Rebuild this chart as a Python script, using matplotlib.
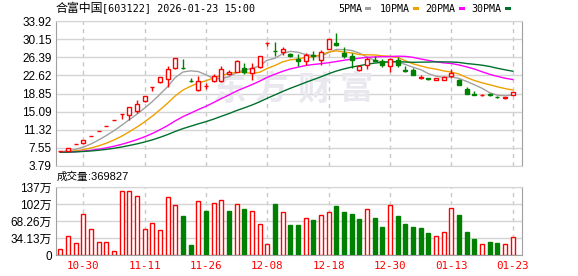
import numpy as np
import pandas as pd
import matplotlib
matplotlib.use("Agg")
import matplotlib.pyplot as plt
from matplotlib.patches import Rectangle

plt.rcParams['font.family'] = ['Liberation Sans', 'Noto Sans CJK SC']

# ---------------- data ----------------
stock_name = "合富中国"
stock_code = "603122"
timestamp = "2026-01-23 15:00"
watermark = "东方财富"

dates = ["10-27", "10-28", "10-29", "10-30", "10-31", "11-03", "11-04", "11-05", "11-06", "11-07",
         "11-10", "11-11", "11-12", "11-13", "11-14", "11-17", "11-18", "11-19", "11-20", "11-26",
         "11-27", "11-28", "12-01", "12-02", "12-03", "12-04", "12-05", "12-08", "12-09", "12-10",
         "12-11", "12-12", "12-15", "12-16", "12-17", "12-18", "12-19", "12-22", "12-23", "12-24",
         "12-25", "12-26", "12-29", "12-30", "12-31", "01-05", "01-06", "01-07", "01-08", "01-09",
         "01-12", "01-13", "01-14", "01-15", "01-16", "01-19", "01-20", "01-21", "01-22", "01-23"]

opens = [6.82, 7.00, 8.29, 8.50, 10.03, 11.03, 12.13, 13.34, 14.67, 14.46,
         15.15, 17.22, 20.12, 21.23, 21.85, 24.13, 24.20, 21.55, 19.64, 20.50,
         21.35, 21.50, 22.95, 23.35, 24.20, 23.10, 24.30, 29.26, 27.72, 27.38,
         27.10, 26.00, 25.65, 26.90, 25.72, 28.07, 29.31, 27.24, 26.69, 23.78,
         24.82, 25.72, 25.65, 24.61, 25.72, 23.78, 23.65, 22.15, 22.00, 21.64,
         21.75, 22.40, 21.60, 19.85, 18.65, 18.45, 18.65, 18.20, 17.85, 18.50]

highs = [6.88, 7.54, 8.29, 9.12, 10.03, 11.03, 12.13, 13.34, 14.67, 15.95,
         17.57, 18.41, 20.12, 22.27, 24.48, 26.20, 26.10, 22.00, 22.40, 21.10,
         22.85, 24.60, 23.75, 25.85, 25.20, 25.20, 26.70, 29.50, 29.66, 28.62,
         27.24, 27.03, 27.24, 27.59, 27.93, 30.14, 31.50, 28.48, 27.24, 24.80,
         26.41, 26.69, 26.07, 26.20, 26.41, 24.61, 24.13, 22.60, 22.05, 22.05,
         22.40, 23.90, 21.90, 20.15, 19.30, 18.65, 18.95, 18.25, 18.15, 19.25]

lows = [6.78, 6.95, 8.29, 8.30, 10.03, 11.03, 12.13, 13.34, 13.50, 13.42,
        14.80, 17.00, 19.29, 21.10, 20.19, 24.00, 23.95, 21.30, 19.43, 19.85,
        21.15, 21.30, 22.75, 23.30, 22.90, 21.60, 24.20, 28.80, 26.69, 26.90,
        26.41, 24.62, 24.82, 25.86, 24.82, 28.00, 28.76, 26.20, 24.13, 23.60,
        23.92, 25.51, 24.34, 23.23, 24.34, 23.23, 22.60, 21.90, 21.75, 21.60,
        21.57, 22.10, 20.65, 18.70, 18.45, 18.30, 18.40, 17.85, 17.80, 18.45]

closes = [6.86, 7.54, 8.29, 9.12, 10.03, 11.03, 12.13, 13.34, 14.67, 15.95,
          16.74, 18.40, 20.12, 22.27, 23.92, 26.20, 24.10, 21.35, 21.50, 20.50,
          22.40, 24.00, 23.40, 25.60, 23.25, 24.20, 26.60, 29.26, 27.59, 28.07,
          26.55, 25.65, 26.90, 26.69, 27.38, 30.12, 28.97, 26.69, 25.86, 24.61,
          26.00, 25.51, 24.82, 25.99, 24.68, 23.44, 22.61, 22.30, 21.90, 22.00,
          22.25, 23.10, 20.70, 18.75, 18.55, 18.60, 18.50, 18.10, 18.15, 19.22]

# volume in 万手
volumes = [12.4, 37.4, 24.3, 83.3, 51.8, 25.6, 25.6, 8.5, 128.6, 128.6,
           118.8, 51.8, 63.7, 49.9, 116.2, 99.8, 78.1, 20.3, 109.0, 87.9,
           104.4, 110.9, 89.3, 103.0, 93.2, 89.3, 63.0, 22.3, 103.0, 87.3,
           59.7, 59.7, 74.8, 69.6, 79.4, 86.6, 97.8, 86.0, 83.3, 71.5,
           93.2, 73.5, 56.4, 101.1, 78.1, 61.7, 56.4, 53.8, 44.0, 37.4,
           45.9, 95.2, 80.1, 46.6, 32.1, 22.3, 26.9, 24.3, 22.3, 36.9827]

# closes before the visible window (estimated from the MA starting levels)
pre_closes = [6.62, 6.58, 6.65, 6.70, 6.66, 6.60, 6.55, 6.58, 6.63, 6.68,
              6.72, 6.70, 6.65, 6.61, 6.57, 6.55, 6.60, 6.64, 6.62, 6.58,
              6.55, 6.52, 6.56, 6.60, 6.58, 6.62, 6.70, 6.78, 6.80]

ma_periods = [5, 10, 20, 30]
ma_names = ["5PMA", "10PMA", "20PMA", "30PMA"]
ma_colors = ["#a0a0a0", "#f0a000", "#ff00ff", "#00702d"]

price_ticks = [3.79, 7.55, 11.32, 15.09, 18.85, 22.62, 26.39, 30.15, 33.92]
price_tick_labels = ["3.79", "7.55", "11.32", "15.09", "18.85", "22.62", "26.39", "30.15", "33.92"]
vol_ticks = [0, 34.13, 68.26, 102.39, 136.52]
vol_tick_labels = ["0", "34.13万", "68.26万", "102万", "137万"]
date_tick_labels = ["10-30", "11-11", "11-26", "12-08", "12-18", "12-30", "01-13", "01-23"]

# ---------------- figure ----------------
W, H = 578, 276
fig = plt.figure(figsize=(W / 100, H / 100), dpi=100)
fig.patch.set_facecolor("white")


def rect(l, t, r, b):
    return [l / W, 1 - b / H, (r - l) / W, (b - t) / H]


ax = fig.add_axes(rect(56, 21, 522, 166))
axv = fig.add_axes(rect(56, 187, 522, 255))

RED = "#ff0000"
GREEN = "#008000"
GRID = "#d4d4d4"
SPINE = "#a0a0a0"

o = np.array(opens); h = np.array(highs); l = np.array(lows); c = np.array(closes)
v = np.array(volumes)
x = np.arange(len(c))
tick_idx = [dates.index(d) for d in date_tick_labels]

# moving averages
all_closes = pd.Series(pre_closes + closes)
for p, col in zip(ma_periods, ma_colors):
    ma = all_closes.rolling(p).mean().values[len(pre_closes):]
    ax.plot(x, ma, color=col, lw=1, zorder=3)

# candles
up = c >= o
edge = np.where(up, RED, GREEN)
face = np.where(up, "white", GREEN)
ax.vlines(x, l, h, colors=edge, lw=1, zorder=4)
ax.bar(x, np.maximum(np.abs(c - o), 1e-6), width=0.5, bottom=np.minimum(o, c),
       color=face, edgecolor=edge, linewidth=1, zorder=5)

# watermark (spaced characters)
wm_x0, wm_step = 229, 42.5
for k, ch in enumerate(watermark):
    ax.text((wm_x0 + k * wm_step) / W, 1 - 90 / H, ch, transform=fig.transFigure,
            fontsize=24, fontweight="bold", color="#e8e8ee", family=["Noto Sans CJK SC"],
            ha="center", va="center", zorder=1)

ax.set_xlim(-0.56, 60.21)
ax.set_ylim(price_ticks[0], price_ticks[-1])
ax.set_yticks(price_ticks)
ax.set_yticklabels(price_tick_labels)
ax.set_xticks(tick_idx)
ax.tick_params(axis="x", labelbottom=False, length=0)
ax.tick_params(axis="y", length=0, pad=3, labelsize=8.5, labelcolor="black")
ax.grid(axis="y", color=GRID, lw=1)
ax.grid(axis="x", color="#c8c8c8", lw=1, ls=(0, (3, 3)))
ax.set_axisbelow(True)

# volume
prev_close = np.concatenate([[pre_closes[-1]], c[:-1]])
vup = c >= prev_close
axv.bar(x, v, width=0.5, color=np.where(vup, "white", GREEN),
        edgecolor=np.where(vup, RED, GREEN), linewidth=1, zorder=3)
axv.set_xlim(-0.56, 60.21)
axv.set_ylim(vol_ticks[0], vol_ticks[-1])
axv.set_yticks(vol_ticks)
axv.set_yticklabels(vol_tick_labels)
axv.set_xticks(tick_idx)
axv.set_xticklabels(date_tick_labels, color=RED, family=["DejaVu Sans Mono"], fontsize=7.8)
axv.tick_params(axis="x", length=0, pad=4.5)
axv.tick_params(axis="y", length=0, pad=3, labelsize=8.5, labelcolor="black")
axv.grid(axis="y", color=GRID, lw=1)
axv.grid(axis="x", color="#c8c8c8", lw=1, ls=(0, (3, 3)))
axv.set_axisbelow(True)

for a in (ax, axv):
    a.spines["left"].set_color(SPINE)
    a.spines["right"].set_color(SPINE)
    a.spines["top"].set_color(GRID)
    a.spines["bottom"].set_color(GRID)
axv.spines["bottom"].set_color(SPINE)


def ft(px, py, s, **kw):
    fig.text(px / W, 1 - py / H, s, va="center", **kw)


# title
ft(56, 8.5, stock_name, fontsize=8.6, family=["Noto Sans CJK SC"], color="black")
ft(102, 8.5, f"[{stock_code}] {timestamp}", fontsize=7.3, family=["DejaVu Sans Mono"], color="black")

# legend
leg_text_x = [338, 380, 425, 471.7]
leg_box_x = [365, 413.3, 459, 505]
for name, col, tx, bx in zip(ma_names, ma_colors, leg_text_x, leg_box_x):
    ft(tx, 9, name, fontsize=7.2, family=["DejaVu Sans Mono"], color="black")
    fig.add_artist(Rectangle((bx / W, 1 - 10.3 / H), 5.7 / W, 3.3 / H,
                             transform=fig.transFigure, color=col, lw=0))

# volume title
ft(57, 177, "成交量", fontsize=7.6, family=["Noto Sans CJK SC"], color="black")
ft(88, 177, f":{int(round(volumes[-1] * 10000))}", fontsize=8, family=["Liberation Sans"], color="black")

fig.savefig("out.png", dpi=100)
